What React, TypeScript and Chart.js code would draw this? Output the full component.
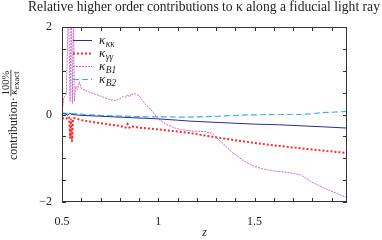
import React, { useEffect, useRef } from "react";
import { Chart, registerables } from "chart.js";

Chart.register(...registerables);

const titleText = "Relative higher order contributions to \u03ba along a fiducial light ray";

const zKK = [0.5, 0.52, 0.53, 0.54, 0.55, 0.6, 0.7, 0.8, 0.9, 1.0, 1.1, 1.16, 1.3, 1.4, 1.5, 1.63, 1.75, 1.85, 1.98];
const vKK = [0.02, 0.01, -0.02, 0.03, 0.0, -0.02, -0.04, -0.06, -0.08, -0.1, -0.13, -0.15, -0.18, -0.2, -0.22, -0.235, -0.26, -0.28, -0.31];

const zGG = [0.5, 0.52, 0.537, 0.542, 0.547, 0.552, 0.557, 0.562, 0.6, 0.7, 0.8, 0.83, 0.84, 0.85, 0.86, 0.9, 1.0, 1.16, 1.31, 1.45, 1.63, 1.8, 1.98];
const vGG = [-0.08, -0.1, -0.05, -0.55, -0.1, -0.62, -0.1, -0.08, -0.13, -0.2, -0.26, -0.3, -0.22, -0.3, -0.27, -0.3, -0.34, -0.42, -0.53, -0.62, -0.72, -0.8, -0.88];

const zB1 = [0.5, 0.51, 0.522, 0.534, 0.542, 0.548, 0.554, 0.56, 0.564, 0.572, 0.58, 0.59, 0.6, 0.62, 0.65, 0.7, 0.75, 0.78, 0.8, 0.82, 0.83, 0.84, 0.85, 0.86, 0.88, 0.9, 0.93, 0.96, 1.0, 1.04, 1.08, 1.12, 1.18, 1.24, 1.28, 1.32, 1.38, 1.44, 1.5, 1.55, 1.6, 1.68, 1.74, 1.8, 1.88, 1.98];
const vB1 = [0.05, 0.4, 0.45, 2.5, 0.3, 2.5, 0.25, 2.5, 0.3, 0.65, 0.57, 0.75, 0.6, 0.55, 0.5, 0.42, 0.34, 0.32, 0.36, 0.42, 0.38, 0.46, 0.4, 0.46, 0.47, 0.43, 0.25, 0.12, -0.1, -0.22, -0.3, -0.35, -0.38, -0.39, -0.43, -0.6, -0.85, -1.05, -1.19, -1.25, -1.29, -1.33, -1.38, -1.55, -1.72, -1.9];

const zB2 = [0.5, 0.55, 0.7, 0.9, 1.16, 1.3, 1.46, 1.6, 1.75, 1.85, 1.98];
const vB2 = [0.03, 0.02, -0.02, -0.05, -0.06, -0.04, -0.01, 0.0, 0.0, 0.04, 0.07];

const xTickLabels: Record<string, string> = { "0.5": "0.5", "1": "1", "1.5": "1.5" };
const yTickLabels: Record<string, string> = { "2": "2", "0": "0", "-2": "\u22122" };

const SERIF = "'Liberation Serif', 'Times New Roman', serif";

const pts = (z: number[], v: number[]) => z.map((x, i) => ({ x, y: v[i] }));

const decorPlugin = {
  id: "decor",
  afterDraw(chart: any) {
    const { ctx, chartArea: a, scales } = chart;
    ctx.save();
    // frame
    ctx.strokeStyle = "#333";
    ctx.lineWidth = 1;
    ctx.strokeRect(a.left + 0.5, a.top + 0.5, a.right - a.left - 1, a.bottom - a.top - 1);
    // inward ticks
    const tl = 4;
    ctx.beginPath();
    scales.x.ticks.forEach((t: any) => {
      const px = Math.round(scales.x.getPixelForValue(t.value)) + 0.5;
      ctx.moveTo(px, a.bottom);
      ctx.lineTo(px, a.bottom - tl);
      ctx.moveTo(px, a.top);
      ctx.lineTo(px, a.top + tl);
    });
    scales.y.ticks.forEach((t: any) => {
      const py = Math.round(scales.y.getPixelForValue(t.value)) + 0.5;
      ctx.moveTo(a.left, py);
      ctx.lineTo(a.left + tl, py);
      ctx.moveTo(a.right, py);
      ctx.lineTo(a.right - tl, py);
    });
    ctx.stroke();

    // title
    ctx.fillStyle = "#222";
    ctx.font = `13.6px ${SERIF}`;
    ctx.textAlign = "center";
    ctx.textBaseline = "alphabetic";
    ctx.fillText(titleText, 204, 11);

    // x axis title
    ctx.font = `italic 12px ${SERIF}`;
    ctx.fillText("z", (a.left + a.right) / 2, 236);

    // y axis title (rotated)
    ctx.save();
    ctx.translate(17, 160);
    ctx.rotate(-Math.PI / 2);
    ctx.textAlign = "left";
    ctx.font = `12px ${SERIF}`;
    const main = "contribution\u00b7";
    ctx.fillText(main, 0, 0);
    const w = ctx.measureText(main).width;
    // fraction
    ctx.font = `10.5px ${SERIF}`;
    const num = "100%";
    const nw = ctx.measureText(num).width;
    ctx.font = `italic 11px ${SERIF}`;
    const kw = ctx.measureText("\u03ba").width;
    ctx.font = `8.5px ${SERIF}`;
    const ew = ctx.measureText("exact").width;
    const fw = Math.max(nw, kw + ew) + 2;
    const fx = w + 1;
    ctx.fillRect(fx, -6.5, fw, 0.8);
    ctx.font = `10.5px ${SERIF}`;
    ctx.fillText(num, fx + (fw - nw) / 2, -8.5);
    const dx = fx + (fw - kw - ew) / 2;
    ctx.font = `italic 11px ${SERIF}`;
    ctx.fillText("\u03ba", dx, 0);
    ctx.font = `8.5px ${SERIF}`;
    ctx.fillText("exact", dx + kw, 1.5);
    ctx.restore();

    // legend
    const entries = [
      { sub: "\u03ba\u03ba", color: "#2b2b9b", dash: [], width: 1 },
      { sub: "\u03b3\u03b3", color: "#ff2a2a", dash: [2, 2], width: 2 },
      { sub: "B1", color: "#c86ccc", dash: [2, 1], width: 1 },
      { sub: "B2", color: "#3cb4e6", dash: [6, 3], width: 1.2 },
    ];
    entries.forEach((e, i) => {
      const y = 40.5 + i * 13;
      ctx.save();
      ctx.strokeStyle = e.color;
      ctx.lineWidth = e.width;
      ctx.setLineDash(e.dash);
      ctx.beginPath();
      ctx.moveTo(73, y);
      ctx.lineTo(92, y);
      ctx.stroke();
      ctx.restore();
      ctx.fillStyle = "#222";
      ctx.textAlign = "left";
      ctx.font = `italic 13px ${SERIF}`;
      ctx.fillText("\u03ba", 99, y + 3);
      const k = ctx.measureText("\u03ba").width;
      ctx.font = `italic 9.5px ${SERIF}`;
      ctx.fillText(e.sub, 99 + k + 0.5, y + 6);
    });
    ctx.restore();
  },
};

export default function App() {
  const ref = useRef<HTMLCanvasElement>(null);
  useEffect(() => {
    const canvas = ref.current!;
    const chart = new Chart(canvas, {
      type: "line",
      data: {
        datasets: [
          { label: "kk", data: pts(zKK, vKK), borderColor: "#2b2b9b", borderWidth: 1, pointRadius: 0, tension: 0 },
          { label: "gg", data: pts(zGG, vGG), borderColor: "#ff2a2a", borderWidth: 2, borderDash: [2, 2], pointRadius: 0, tension: 0 },
          { label: "B1", data: pts(zB1, vB1), borderColor: "#c86ccc", borderWidth: 1, borderDash: [2, 1], pointRadius: 0, tension: 0 },
          { label: "B2", data: pts(zB2, vB2), borderColor: "#3cb4e6", borderWidth: 1.2, borderDash: [6, 3], pointRadius: 0, tension: 0 },
        ],
      },
      options: {
        responsive: false,
        animation: false,
        events: [],
        layout: { padding: { left: 0, right: 35, top: 27, bottom: 0 } },
        plugins: { legend: { display: false }, title: { display: false }, tooltip: { enabled: false } },
        scales: {
          x: {
            type: "linear",
            min: 0.5,
            max: 1.98,
            grid: { display: false },
            border: { display: false },
            afterFit: (s: any) => { s.height = 38; },
            afterBuildTicks: (s: any) => {
              const t = [];
              for (let i = 0; i <= 14; i++) t.push({ value: Math.round((0.5 + i * 0.1) * 10) / 10 });
              s.ticks = t;
            },
            ticks: {
              autoSkip: false,
              maxRotation: 0,
              padding: 5,
              color: "#222",
              font: { family: SERIF, size: 12 },
              callback: (v: any) => xTickLabels[String(v)] ?? "",
            },
          },
          y: {
            type: "linear",
            min: -2,
            max: 2,
            grid: { display: false },
            border: { display: false },
            afterFit: (s: any) => { s.width = 62; },
            ticks: {
              stepSize: 0.5,
              autoSkip: false,
              padding: 2,
              color: "#222",
              font: { family: SERIF, size: 12 },
              callback: (v: any) => yTickLabels[String(v)] ?? "",
            },
          },
        },
      },
      plugins: [decorPlugin],
    });
    return () => chart.destroy();
  }, []);
  return (
    <div style={{ position: "fixed", left: 0, top: 0, width: 382, height: 240, background: "#fff" }}>
      <canvas ref={ref} width={382} height={240} style={{ width: 382, height: 240 }} />
    </div>
  );
}
